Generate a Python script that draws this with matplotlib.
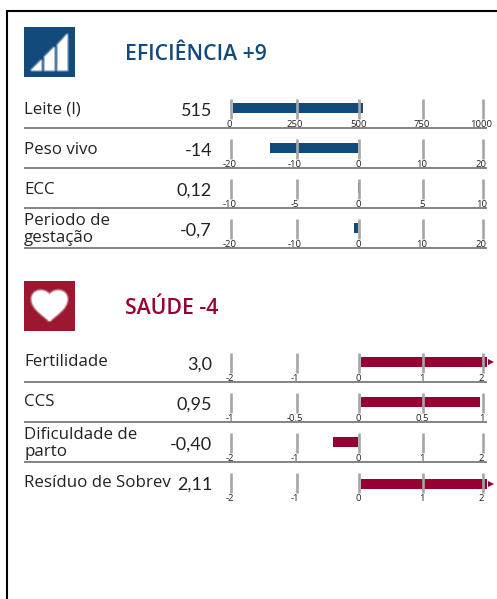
import matplotlib
matplotlib.use('Agg')
import matplotlib.pyplot as plt
import numpy as np
from matplotlib.patches import Polygon, Rectangle, PathPatch
from matplotlib.path import Path
from matplotlib.transforms import Affine2D

# data
eff_title = 'EFICIÊNCIA +9'
eff_labels = ['Leite (l)', 'Peso vivo', 'ECC', 'Periodo de\ngestação']
eff_text = ['515', '-14', '0,12', '-0,7']
eff_values = [515, -14, 0.12, -0.7]
eff_ticks = [[0, 250, 500, 750, 1000], [-20, -10, 0, 10, 20], [-10, -5, 0, 5, 10], [-20, -10, 0, 10, 20]]

sau_title = 'SAÚDE -4'
sau_labels = ['Fertilidade', 'CCS', 'Dificuldade de\nparto', 'Resíduo de Sobrev']
sau_text = ['3,0', '0,95', '-0,40', '2,11']
sau_values = [3.0, 0.95, -0.40, 2.11]
sau_ticks = [[-2, -1, 0, 1, 2], [-1, -0.5, 0, 0.5, 1], [-2, -1, 0, 1, 2], [-2, -1, 0, 1, 2]]

BLUE = '#134a7c'
RED = '#970030'
W, H = 497, 599
plt.rcParams['font.family'] = 'Open Sans'

fig = plt.figure(figsize=(W / 100, H / 100), dpi=100)
bg = fig.add_axes([0, 0, 1, 1])
bg.set_xlim(0, W)
bg.set_ylim(H, 0)
bg.axis('off')

# frame, only top and left
bg.plot([6, W], [10.5, 10.5], color='k', lw=1.5, solid_capstyle='butt')
bg.plot([7, 7], [10, H], color='k', lw=1.5, solid_capstyle='butt')


def soft(patch_fn):
    # fake the blurry white icon shapes with a few see-through strokes
    for lw, a in [(3.0, 0.2), (1.8, 0.35), (0.8, 0.6)]:
        p = patch_fn()
        p.set(fc='none', ec='white', lw=lw, alpha=a, joinstyle='round')
        bg.add_patch(p)
    p = patch_fn()
    p.set(fc='white', ec='none', lw=0)
    bg.add_patch(p)


# icons
bg.add_patch(Rectangle((24, 27), 51, 50, color=BLUE, lw=0))
for pts in [[(32, 70), (41, 61), (41, 70)], [(45, 70), (45, 57), (54, 48), (54, 70)], [(58, 70), (58, 45), (67, 35), (67, 70)]]:
    soft(lambda: Polygon(pts, closed=True))

bg.add_patch(Rectangle((24, 281), 51, 50, color='#9b1830', lw=0))
heart_pts = [(49.5, 321), (44, 315), (32, 309), (32, 299), (32, 290), (44, 288), (49.5, 295),
             (55, 288), (67, 290), (67, 299), (67, 309), (55, 315), (49.5, 321)]
soft(lambda: PathPatch(Path(heart_pts, [Path.MOVETO] + [Path.CURVE4] * 12)))

bg.text(125, 54.5, eff_title, color=BLUE, fontsize=15.3, weight='semibold', va='center', ha='left')
bg.text(125, 308.5, sau_title, color=RED, fontsize=15.3, weight='semibold', va='center', ha='left')


def draw_row(top, label, text, value, ticks, color, sep=True, bar_y=0.55, label_dy=10.5):
    # row chart, 20px tall, axis runs from 232 to 484 px
    ax = fig.add_axes([232 / W, 1 - (top + 20) / H, 252 / W, 20 / H])
    ax.set_xlim(ticks[0], ticks[-1])
    ax.set_ylim(0, 1)
    ax.axis('off')
    px = 252 / (ticks[-1] - ticks[0])

    shown = min(value, ticks[-1])
    bar_px = shown * px
    if ticks[0] == 0:
        dx = 0.8
    elif bar_px > 3:
        dx = 2.7
    else:
        dx = 0
    shift = Affine2D().translate(dx, 0)
    ax.barh(bar_y, shown, height=0.5, color=color, lw=0, clip_on=False, transform=ax.transData + shift)
    if value > ticks[-1]:
        ax.plot([ticks[-1] + 4.0 / px], [bar_y], marker='>', ms=4, color=color, mew=0, clip_on=False,
                transform=ax.transData + shift)

    nudge = [-0.7, 2.3, 1.3, 2.3, -0.7]
    label_nudge = [-2.5, 0, 0.7, 1, -2.5]
    for t, n, ln in zip(ticks, nudge, label_nudge):
        ax.plot([t, t], [0, 1], color='#a6a6a6', lw=1.9, solid_capstyle='butt', clip_on=False,
                transform=ax.transData + Affine2D().translate(n, 0))
        ax.text(t, -0.26, f'{t:g}', fontsize=6.8, color='#222222', ha='center', va='center',
                transform=ax.transData + Affine2D().translate(ln, 0), clip_on=False)

    if sep:
        bg.plot([24, 487], [top + 28.7, top + 28.7], color='#7a7a7a', lw=1.3, solid_capstyle='butt')
    ly = top + (10.5 if '\n' in label else label_dy)
    bg.text(24, ly, label, fontsize=12.2, color='#222222', ha='left', va='center', linespacing=1.08)
    bg.text(212, top + 11.5, text, fontsize=13, color='#222222', ha='right', va='center', family='Lato')


for i in range(4):
    draw_row(99 + 40 * i, eff_labels[i], eff_text[i], eff_values[i], eff_ticks[i], BLUE)
for i in range(4):
    draw_row(353 + 40 * i, sau_labels[i], sau_text[i], sau_values[i], sau_ticks[i], RED, sep=i < 3,
             bar_y=0.45 if i == 3 else 0.55, label_dy=10 if i == 3 else 8.5)

plt.savefig('out.png', dpi=100)
